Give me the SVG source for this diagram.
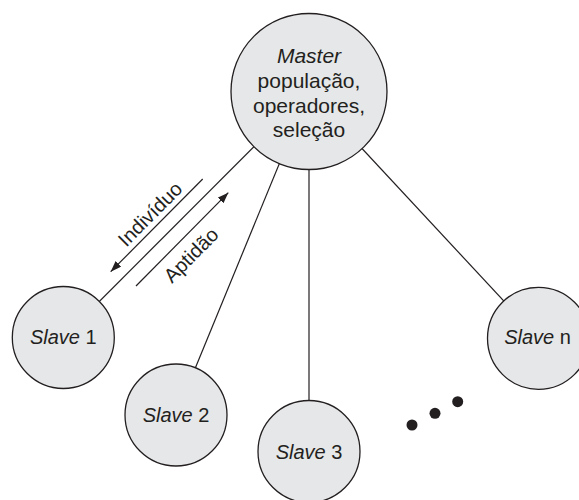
<svg xmlns="http://www.w3.org/2000/svg" width="579" height="500" viewBox="0 0 579 500">
<style>
.node{fill:#e6e7e8;stroke:#231f20;stroke-width:1.3}
.edge{stroke:#231f20;stroke-width:1.2;fill:none}
.arr{stroke:#231f20;stroke-width:1.2;fill:none;marker-end:url(#ah)}
text{font-family:"Liberation Sans",Arial,sans-serif;fill:#231f20;text-anchor:middle}
.m{font-size:21px}
.s{font-size:20px}
.lbl{font-size:20px}
.i{font-style:italic}
</style>
<defs>
<marker id="ah" markerWidth="12" markerHeight="8" refX="11" refY="4" orient="auto" markerUnits="userSpaceOnUse">
<path d="M0,0 L11,4 L0,8 z" fill="#231f20"/>
</marker>
</defs>
<rect width="579" height="500" fill="#ffffff"/>
<g id="connectors">
<line class="edge" x1="309" y1="91.5" x2="63.3" y2="337.5"/>
<line class="edge" x1="309" y1="91.5" x2="176" y2="415"/>
<line class="edge" x1="309" y1="91.5" x2="309" y2="451.5"/>
<line class="edge" x1="309" y1="91.5" x2="538.5" y2="338.3"/>
<line class="arr" x1="202.7" y1="179" x2="110.7" y2="271.7"/>
<line class="arr" x1="136" y1="286" x2="228.3" y2="192.7"/>
<text class="lbl" transform="translate(150,214) rotate(-45)" y="7">Indivíduo</text>
<text class="lbl" transform="translate(191,255) rotate(-45)" y="7">Aptidão</text>
</g>
<g id="master">
<circle class="node" cx="309" cy="91.5" r="78"/>
<text class="m" x="309" y="63"><tspan class="i">Master</tspan></text>
<text class="m" x="309" y="88">população,</text>
<text class="m" x="309" y="112.5">operadores,</text>
<text class="m" x="309" y="137">seleção</text>
</g>
<g id="slave1">
<circle class="node" cx="63.3" cy="337.5" r="51"/>
<text class="s" x="63.3" y="344"><tspan class="i">Slave</tspan> 1</text>
</g>
<g id="slave2">
<circle class="node" cx="176" cy="415" r="51"/>
<text class="s" x="176" y="421.5"><tspan class="i">Slave</tspan> 2</text>
</g>
<g id="slave3">
<circle class="node" cx="309" cy="451.5" r="51"/>
<text class="s" x="309" y="458.5"><tspan class="i">Slave</tspan> 3</text>
</g>
<g id="slaven">
<circle class="node" cx="538.5" cy="338.3" r="51"/>
<text class="s" x="537.5" y="344"><tspan class="i">Slave</tspan> n</text>
</g>
<g id="ellipsis">
<circle cx="412" cy="425" r="5.5" fill="#231f20"/>
<circle cx="435" cy="413.3" r="5.5" fill="#231f20"/>
<circle cx="457.7" cy="401.7" r="5.5" fill="#231f20"/>
</g>
</svg>
